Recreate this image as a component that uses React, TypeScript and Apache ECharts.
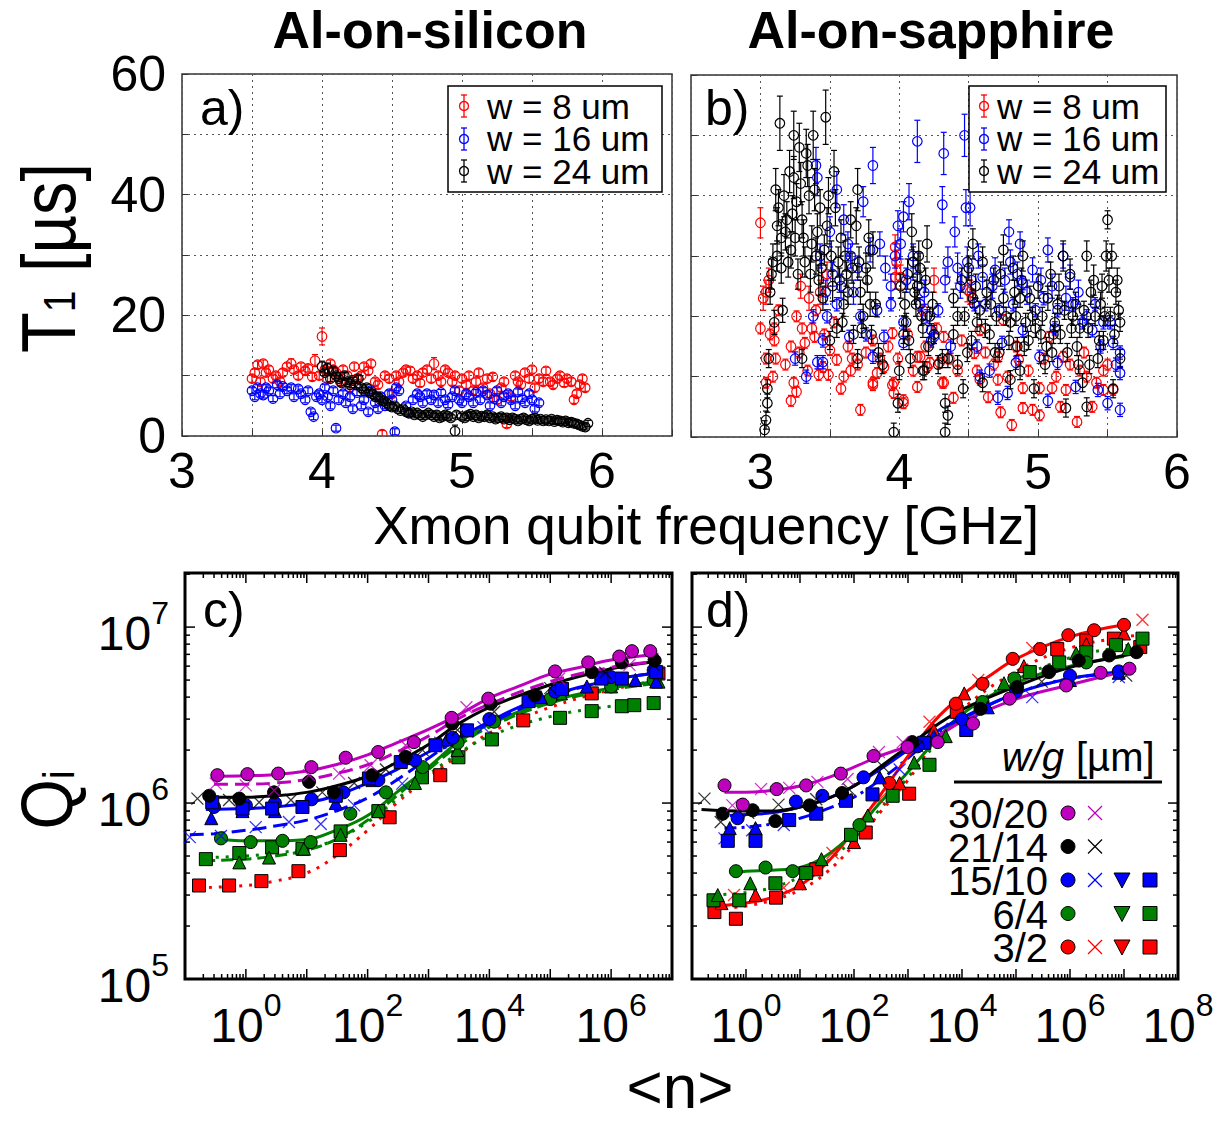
import React, { useEffect, useRef } from 'react';
import * as echarts from 'echarts';

const FONT = "'Liberation Sans', Arial, Helvetica, sans-serif";
const RED = '#ff0000';
const BLUE = '#0000ff';
const BLACK = '#000000';
const MAG = '#bf00bf';
const GRN = '#008000';

// ---------- text ----------
const panelTitles = ['Al-on-silicon', 'Al-on-sapphire'];
const panelTags = ['a)', 'b)', 'c)', 'd)'];
const t1LegendLabels = ['w = 8 um', 'w = 16 um', 'w = 24 um'];
const wgRowLabels = ['30/20', '21/14', '15/10', '6/4', '3/2'];

// ---------- panel a (Al-on-silicon): [GHz, T1 us, err] ----------
const aRed = [[3.50,9.5],[3.52,10.5],[3.54,11.8],[3.56,9],[3.58,12],[3.60,10.5],[3.62,11],[3.65,9.5],[3.67,10],[3.70,9],[3.72,10.5],[3.75,11.5],[3.78,12,0.8],[3.80,11],[3.83,10],[3.85,11.5],[3.88,10.8],[3.90,11.2],[3.93,9.8],[3.95,12.5,1.0],[3.98,10],[4.00,16.5,1.4],[4.02,11],[4.04,9.5],[4.06,12],[4.08,11],[4.10,10.5],[4.13,9],[4.15,11],[4.18,10],[4.20,8],[4.23,11.5],[4.25,9.5],[4.28,10],[4.30,11.5],[4.33,10.8],[4.35,12],[4.38,9],[4.40,8.5],[4.43,0.3],[4.45,10],[4.48,9.5],[4.50,7],[4.53,10],[4.55,9],[4.58,10.5],[4.60,11],[4.63,10.8],[4.65,9.5],[4.68,10],[4.70,8.8],[4.72,10.5],[4.75,11],[4.78,9.5],[4.80,12,1.0],[4.83,10],[4.85,9],[4.88,11],[4.90,10.5],[4.93,9],[4.95,10],[4.98,7.5],[5.00,9.5],[5.03,8.5],[5.05,10],[5.08,7.5],[5.10,9],[5.12,10.5],[5.15,8],[5.18,9.5],[5.20,7],[5.22,9.8],[5.25,6],[5.28,8],[5.30,9],[5.32,2],[5.35,6.5],[5.38,10],[5.40,9],[5.42,8.5],[5.45,10.5],[5.48,9.5],[5.50,11],[5.52,8],[5.55,9.5],[5.58,9],[5.60,10.8],[5.63,9],[5.65,8.5],[5.68,9.5],[5.70,10],[5.73,8.8],[5.75,9.5],[5.78,9],[5.80,6],[5.82,7],[5.84,8.5],[5.86,9.5],[5.88,8]];
const aBlue = [[3.50,7.5],[3.52,6.5],[3.54,8],[3.56,7],[3.58,6.8],[3.60,8],[3.62,7.5],[3.65,6.2],[3.68,8.5],[3.70,7],[3.72,8.2],[3.75,7.5],[3.78,8],[3.80,6.5],[3.83,7.8],[3.85,7],[3.88,6],[3.90,7.5],[3.92,4],[3.94,3.2],[3.96,6.5],[3.98,7],[4.00,6],[4.02,8],[4.04,6.5],[4.06,5],[4.08,7.5],[4.10,1.3],[4.12,6],[4.15,7],[4.17,5.5],[4.20,6.5],[4.22,4.5],[4.25,7.2],[4.28,5],[4.30,6],[4.33,4],[4.35,7.5],[4.38,5.5],[4.40,4.5],[4.42,6.5],[4.45,5],[4.48,7],[4.50,6],[4.52,0.7],[4.53,8],[4.55,7.5],[4.60,5],[4.62,3.8],[4.65,6],[4.68,7],[4.70,6.5],[4.72,5.5],[4.75,7],[4.78,6],[4.80,6.8],[4.83,5.5],[4.85,7.2],[4.88,6],[4.90,5.2],[4.93,6.5],[4.95,7.5],[4.98,6],[5.00,5.5],[5.03,7],[5.05,6.5],[5.08,5.5],[5.10,7.2],[5.13,6],[5.15,7.5],[5.18,6.8],[5.20,5],[5.23,6.2],[5.25,7.5],[5.28,5.5],[5.30,6.5],[5.33,7],[5.35,6],[5.38,5],[5.40,7.3],[5.43,6.2],[5.45,5.5],[5.48,7],[5.50,6],[5.52,4.5],[5.55,5.5]];
const aBlack = [[4.00,11.5,0.9],[4.02,10.5],[4.04,11.2,0.9],[4.06,9.5],[4.08,10.8],[4.10,10],[4.12,9.5],[4.14,8.8],[4.16,10],[4.18,9],[4.20,8.5],[4.22,9.2],[4.24,8.5],[4.26,9.5],[4.28,8],[4.30,7.5],[4.32,8],[4.34,7.2],[4.36,7],[4.38,6.5],[4.40,6.5],[4.42,6],[4.44,5.8],[4.46,5.5],[4.48,5],[4.50,4.8],[4.52,5],[4.54,4.5],[4.56,4.2],[4.58,4.5],[4.60,4],[4.62,3.8],[4.64,4],[4.66,3.5],[4.68,3.8],[4.70,3.5],[4.72,3.2],[4.74,3.5],[4.76,3.8],[4.78,3.5],[4.80,3.2],[4.82,3.5],[4.84,3],[4.86,3.2],[4.88,3.5],[4.90,3.3],[4.92,3],[4.95,0.8,1],[4.96,3.5],[5.00,3.2],[5.02,3],[5.04,3.4],[5.06,3.6],[5.08,3.2],[5.10,3.5],[5.12,3],[5.14,3.3],[5.16,3.2],[5.18,3.5],[5.20,3],[5.22,3.2],[5.24,2.8],[5.26,3],[5.28,3.2],[5.30,2.8],[5.32,3],[5.34,2.7],[5.36,3],[5.38,2.8],[5.40,2.5],[5.42,2.8],[5.44,3],[5.46,2.7],[5.48,2.5],[5.50,2.8],[5.52,3],[5.54,2.6],[5.56,2.8],[5.58,2.5],[5.60,2.7],[5.62,2.5],[5.64,2.8],[5.66,2.4],[5.68,2.6],[5.70,2.5],[5.72,2.3],[5.74,2.5],[5.76,2.2],[5.78,2.3],[5.80,2.1],[5.82,2],[5.84,1.8],[5.86,1.6],[5.88,1.5],[5.90,2.1]];

// ---------- panel b (Al-on-sapphire) ----------
const bRed = [[3.00,35.5,2.5],[3.00,18],[3.02,23,2],[3.04,24,2],[3.06,26,2],[3.04,13],[3.04,9],[3.07,17],[3.09,10],[3.10,18],[3.10,16],[3.11,13],[3.13,21],[3.18,12],[3.22,6],[3.22,15],[3.24,9],[3.26,7.5],[3.26,20],[3.28,14],[3.29,25,2],[3.30,18],[3.32,15.6],[3.34,11],[3.35,23,2],[3.37,18],[3.39,16.6],[3.40,21],[3.42,10.3],[3.43,24,2],[3.45,11.6],[3.46,17],[3.48,27,2],[3.49,10.3],[3.50,14.4],[3.53,19],[3.55,12.8],[3.58,8],[3.60,10],[3.63,15],[3.65,11],[3.66,13],[3.70,12],[3.72,4.5],[3.76,14],[3.81,9],[3.81,16],[3.81,8.6],[3.84,10.6],[3.86,13],[3.89,11.6],[3.92,15],[3.95,17.2],[3.95,8.6],[3.96,9],[3.96,7.3],[3.97,26.5,2],[3.97,31.5,2],[3.98,29,2],[3.99,13],[4.01,26.5,2],[4.03,6.1],[4.03,5.6],[4.06,17],[4.10,11],[4.13,13.3],[4.13,8.3],[4.15,13.3],[4.17,21],[4.19,15],[4.20,11.6],[4.22,12.3],[4.25,26,2],[4.27,18],[4.29,12.3],[4.31,9],[4.32,16.6],[4.32,9],[4.36,13],[4.39,6.5],[4.42,11],[4.45,16],[4.49,24.4,2],[4.51,24,2],[4.54,13.9],[4.56,11],[4.58,9.5],[4.58,17.7],[4.62,14],[4.64,6.6],[4.68,12],[4.71,9.5],[4.71,13.3],[4.73,4.1],[4.75,19.4],[4.78,10],[4.81,2],[4.84,15],[4.86,12.8],[4.89,4.8],[4.89,8.1],[4.93,11],[4.96,4.5],[5.01,3.6],[5.01,8.1],[5.04,13],[5.08,16.6],[5.10,8.1],[5.13,10],[5.16,5],[5.18,13.3],[5.20,7.8],[5.23,12],[5.28,2.5],[5.30,11],[5.33,14],[5.35,10],[5.39,5],[5.42,9],[5.47,7.8],[5.47,11],[5.50,12],[5.54,7.8]];
const bBlue = [[3.25,13],[3.33,10],[3.38,20],[3.40,45,3],[3.41,43,3],[3.41,12.4],[3.43,30,2],[3.45,16],[3.45,12.4],[3.47,24,2],[3.48,20],[3.50,34,2.5],[3.52,27,2],[3.55,22],[3.55,41,3],[3.58,25,2],[3.60,36,2.5],[3.63,32,2],[3.64,16.6],[3.65,30,2],[3.67,24,2],[3.70,28,2],[3.72,20],[3.74,39,2.5],[3.76,17],[3.79,31,2],[3.81,45,3],[3.81,13.3],[3.84,21],[3.86,32,2],[3.89,16.6],[3.90,28,2],[3.94,25,2],[3.94,22],[3.97,30,2],[3.99,35,2.5],[4.01,32,2.5],[4.03,36.5,2.5],[4.03,19],[4.03,15.6],[4.05,26,2],[4.07,39,3],[4.10,30,2],[4.13,49,3.5],[4.13,26.5,2],[4.15,22],[4.18,24,2],[4.20,20],[4.23,16],[4.23,17.7],[4.25,16.6],[4.28,21],[4.31,38.5,3],[4.32,47,3.5],[4.33,26,2],[4.35,29,2.5],[4.37,15],[4.40,34,2.5],[4.42,28,2.5],[4.44,25,2],[4.47,50,3.5],[4.48,38,3],[4.49,29,2.5],[4.51,38,3],[4.52,26,2],[4.54,22],[4.56,15],[4.57,30,2],[4.58,10],[4.60,26.5,2],[4.62,22],[4.65,11],[4.67,25,2],[4.69,27.7,2],[4.71,6.5],[4.72,21],[4.74,15.6],[4.76,26,2],[4.78,7.3],[4.79,34,2],[4.80,29,2],[4.82,22],[4.84,12.3],[4.85,27,2],[4.87,32,2],[4.89,25.5],[4.89,17.7],[4.92,24,2],[4.96,27.7,2],[4.98,21],[5.01,13.3],[5.02,26,2],[5.04,23],[5.07,31,2],[5.07,6],[5.10,25,2],[5.12,18],[5.14,21],[5.14,12.3],[5.18,30,2],[5.20,23,2],[5.23,26.5,2],[5.25,22],[5.27,8.3],[5.29,24,2],[5.32,19],[5.35,20],[5.39,17.7],[5.41,22],[5.43,7.8],[5.45,15],[5.47,19],[5.50,5.6],[5.52,19],[5.54,15.6],[5.56,12],[5.59,14],[5.59,10.6],[5.59,4.5]];
const bBlack = [[3.03,1.2],[3.04,2.8],[3.05,5.6],[3.05,8],[3.06,13],[3.07,24,2],[3.08,27,2.5],[3.09,29,3],[3.10,19,2],[3.11,41,3.5],[3.12,30,2.5],[3.12,35,3],[3.13,38,3],[3.14,52,4.5],[3.15,28,2.5],[3.15,33,3],[3.16,21,2],[3.17,40,3.5],[3.18,34,3],[3.19,36,3],[3.20,29,2.5],[3.21,44,3.5],[3.22,31,3],[3.23,37,3],[3.24,50,4],[3.24,43,3.5],[3.25,33,3],[3.26,39,3],[3.27,27,2.5],[3.28,48,4],[3.29,42,3.5],[3.30,13],[3.30,36,3],[3.31,33,3],[3.32,29,2.5],[3.33,47,4],[3.34,45,3.5],[3.35,40,3],[3.36,27,3],[3.37,32,3],[3.38,50,4],[3.39,41,3.5],[3.40,30,3],[3.41,34,3],[3.42,26,2.5],[3.43,38,3],[3.44,28,2.5],[3.45,23,2],[3.46,31,2.5],[3.47,53,4.5],[3.48,35,3],[3.49,40,3],[3.50,16],[3.51,30,2.5],[3.52,25,2.5],[3.53,44,3.5],[3.54,38,3],[3.55,18],[3.56,29,2.5],[3.57,26,2],[3.58,33,3],[3.59,19],[3.60,22,2],[3.61,30,2.5],[3.62,27,2],[3.63,24,2],[3.65,36,3],[3.66,28,2.5],[3.67,17],[3.69,35,3],[3.70,41,3.5],[3.70,13],[3.71,29,2.5],[3.72,24,2],[3.73,18],[3.74,20,2],[3.76,28,2.5],[3.77,26,2],[3.78,33,3],[3.79,22,2],[3.80,17],[3.81,31,3],[3.83,22,2],[3.85,14],[3.88,12],[3.96,0.8],[3.99,5.6],[4.00,11],[4.01,25,2],[4.03,17],[4.04,22,2],[4.05,19],[4.06,27,2.5],[4.07,16],[4.08,13],[4.09,34,3],[4.10,29,2.5],[4.11,24,2],[4.12,22,2],[4.13,25,2],[4.14,30,2.5],[4.15,28,2.5],[4.16,20],[4.17,11],[4.17,18],[4.18,11],[4.19,26,2],[4.20,32,3],[4.21,15],[4.22,20],[4.24,22,2],[4.25,17],[4.28,12],[4.31,13],[4.33,0.8],[4.33,5.6],[4.35,3.6],[4.35,13],[4.39,17],[4.39,23],[4.42,20],[4.42,12],[4.45,26,2],[4.46,8],[4.47,20],[4.49,14],[4.50,28,2],[4.52,16],[4.53,32,2.5],[4.53,23],[4.55,25,2],[4.56,19],[4.58,21],[4.60,29,2.5],[4.60,9],[4.62,18],[4.63,24,2],[4.65,17],[4.66,22,2],[4.68,26,2],[4.69,14],[4.70,20],[4.72,14],[4.73,27,2],[4.75,31,2.5],[4.75,23],[4.77,20],[4.79,16],[4.80,19],[4.80,9.5],[4.82,28,2],[4.83,24,2],[4.84,20],[4.85,15],[4.87,23],[4.87,11],[4.88,26,2],[4.89,30,2.5],[4.90,15],[4.91,19],[4.93,16],[4.94,23,2],[4.96,20],[4.97,8],[4.98,18],[5.00,25,2],[5.02,17],[5.03,20],[5.05,12],[5.06,15],[5.07,23,2],[5.09,27,2],[5.10,14],[5.11,17],[5.12,19],[5.14,22],[5.15,25,2],[5.16,17],[5.18,30,2.5],[5.19,21],[5.20,4.8],[5.21,14],[5.23,27,2.5],[5.24,18],[5.25,20],[5.27,22,2],[5.28,15],[5.29,12],[5.30,18],[5.32,9],[5.33,21],[5.35,30,2.5],[5.35,5],[5.36,18],[5.37,12],[5.38,24,2],[5.40,26,2.5],[5.41,20],[5.43,13],[5.44,16],[5.45,22,2],[5.46,25,2],[5.47,16],[5.48,20],[5.49,30,2.5],[5.50,36,1.5],[5.51,26,2],[5.52,20],[5.53,30,2],[5.54,8],[5.55,17],[5.56,24,2],[5.57,26,2],[5.58,21],[5.59,19],[5.59,13]];

// ---------- panel c (Al-on-silicon resonators): [<n>, Qi] ----------
const cMagCirc = [[0.34,1.44e6],[1.06,1.46e6],[3.4,1.47e6],[11.9,1.6e6],[43.6,1.81e6],[149,1.95e6],[575,2.22e6],[2400,3.05e6],[9600,3.92e6],[1.2e5,5.6e6],[4.2e5,6.3e6],[1.36e6,6.8e6],[2.2e6,7.3e6],[4.4e6,7.3e6]];
const cMagX = [[0.32,1.29e6],[1,1.26e6],[2.9,1.18e6],[10.9,1.44e6],[34,1.47e6],[112,1.64e6],[420,2.13e6],[4200,3.5e6],[1.4e5,5.1e6],[2e6,6.1e6]];
const cBlkCirc = [[0.25,1.1e6],[0.78,1.06e6],[2.9,1.15e6],[10.9,1.32e6],[28,1.15e6],[119,1.44e6],[420,1.83e6],[2450,2.83e6],[1.05e4,3.67e6],[5.6e4,4.1e6],[4.8e5,5.55e6],[1.5e6,6.3e6],[5.2e6,6.45e6]];
const cBlkX = [[0.16,1.06e6],[0.53,1.04e6],[1.65,1.01e6],[5.5,1.04e6],[18,1.15e6],[60,1.3e6],[200,1.55e6],[800,2e6],[3000,2.6e6],[1.2e4,3.3e6],[1e5,4.5e6],[8e5,5.5e6],[5e6,6.1e6]];
const cBluCirc = [[0.3,0.95e6],[1,0.97e6],[3,1e6],[12,1.05e6],[40,1.15e6],[150,1.35e6],[600,1.75e6],[2500,2.35e6],[1e4,3e6],[1.2e5,4.3e6],[1e6,5.2e6],[5e6,5.7e6]];
const cBluX = [[0.12,0.64e6],[0.39,0.65e6],[1.45,0.73e6],[5.1,0.78e6],[17,0.76e6],[60,0.97e6],[370,1.29e6],[1560,2.2e6],[8000,2.7e6],[6e6,5.45e6]];
const cBluTri = [[0.27,0.82e6],[0.88,0.9e6],[3,0.9e6],[30,1e6],[120,1.35e6],[500,1.8e6],[2000,2.3e6],[7e4,4e6],[4e5,4.6e6],[2.5e6,5e6],[5.5e6,4.9e6]];
const cBluSq = [[0.28,1.01e6],[0.88,0.93e6],[2.7,0.93e6],[8.5,0.95e6],[30,1.1e6],[105,1.38e6],[350,1.71e6],[1300,2.13e6],[4300,2.59e6],[4.4e4,3.8e6],[1.56e5,4.45e6],[6.9e5,5.1e6],[1.5e6,5.1e6],[5.5e6,5.55e6]];
const cGrnCirc = [[0.39,0.63e6],[1.2,0.6e6],[4,0.61e6],[11.6,0.6e6],[52,0.87e6],[200,1.15e6],[800,1.6e6],[3000,2.2e6],[1.2e4,2.9e6],[1e5,3.9e6],[1e6,4.6e6],[5e6,5e6]];
const cGrnTri = [[0.78,0.46e6],[2.4,0.49e6],[9,0.55e6],[36,0.66e6],[150,0.9e6],[600,1.3e6],[3000,2e6],[1.5e5,4.2e6],[1e6,4.6e6],[6e6,4.9e6]];
const cGrnSq = [[0.22,0.48e6],[0.78,0.52e6],[2.7,0.56e6],[8.5,0.55e6],[36,0.69e6],[150,0.9e6],[780,1.4e6],[3100,1.82e6],[1.1e4,2.3e6],[1.45e5,3.05e6],[4.8e5,3.33e6],[1.5e6,3.55e6],[2.4e6,3.6e6],[5e6,3.7e6]];
const cRedSq = [[0.17,0.34e6],[0.53,0.34e6],[1.8,0.36e6],[7.3,0.41e6],[35,0.54e6],[230,0.83e6],[1560,1.44e6],[3.6e4,2.95e6],[4.8e5,4.2e6],[6e6,5.45e6]];
// fitted curves, panel c
const cMagFit = [[0.28,1.42e6],[1,1.43e6],[3,1.45e6],[10,1.52e6],[30,1.65e6],[100,1.88e6],[300,2.2e6],[1000,2.62e6],[3000,3.15e6],[1e4,3.95e6],[3e4,4.6e6],[1e5,5.4e6],[3e5,5.9e6],[1e6,6.5e6],[6e6,7e6]];
const cMagXFit = [[0.3,1.28e6],[1,1.28e6],[3,1.3e6],[10,1.36e6],[30,1.47e6],[100,1.65e6],[300,1.95e6],[1000,2.4e6],[3000,3e6],[1e4,3.65e6],[1e5,4.9e6],[1e6,5.9e6],[6e6,6.4e6]];
const cBlkFit = [[0.2,1.08e6],[1,1.08e6],[3,1.1e6],[10,1.15e6],[30,1.25e6],[100,1.42e6],[300,1.7e6],[1000,2.15e6],[3000,2.8e6],[1e4,3.5e6],[1e5,4.7e6],[1e6,5.8e6],[6e6,6.4e6]];
const cBluFit = [[0.22,0.92e6],[1,0.93e6],[3,0.95e6],[10,1e6],[30,1.1e6],[100,1.3e6],[300,1.55e6],[1000,1.95e6],[3000,2.35e6],[1e4,2.9e6],[3e4,3.5e6],[1e5,4.1e6],[1e6,5e6],[6e6,5.5e6]];
const cBluXFit = [[0.12,0.66e6],[0.3,0.67e6],[1,0.7e6],[3,0.74e6],[10,0.8e6],[30,0.9e6],[100,1.07e6],[300,1.35e6],[1000,1.8e6],[3000,2.3e6],[1e4,2.85e6],[1e5,4e6],[1e6,5e6],[6e6,5.5e6]];
const cGrnFit = [[0.39,0.62e6],[1,0.61e6],[3,0.61e6],[10,0.62e6],[30,0.7e6],[100,0.85e6],[300,1.15e6],[1000,1.6e6],[3000,2.2e6],[1e4,2.8e6],[1e5,3.8e6],[1e6,4.5e6],[6e6,4.9e6]];
const cGrnTriFit = [[0.2,0.47e6],[1,0.48e6],[3,0.5e6],[10,0.54e6],[30,0.62e6],[100,0.8e6],[300,1.1e6],[1000,1.55e6],[3000,2.1e6],[1e4,2.7e6],[1e5,3.7e6],[1e6,4.4e6],[6e6,4.8e6]];
const cGrnSqFit = [[0.22,0.49e6],[1,0.5e6],[3,0.52e6],[10,0.55e6],[30,0.62e6],[100,0.78e6],[300,1.05e6],[1000,1.45e6],[3000,1.9e6],[1e4,2.4e6],[1e5,3.1e6],[1e6,3.55e6],[5e6,3.75e6]];
const cRedSqFit = [[0.17,0.33e6],[1,0.34e6],[3,0.36e6],[10,0.4e6],[30,0.5e6],[100,0.7e6],[300,1e6],[1000,1.4e6],[3000,1.85e6],[1e4,2.5e6],[1e5,3.5e6],[1e6,4.4e6],[6e6,5e6]];

// ---------- panel d (Al-on-sapphire resonators) ----------
const dMagCirc = [[0.4,1.26e6],[0.87,0.98e6],[3.7,1.2e6],[13,1.26e6],[57,1.47e6],[230,1.85e6],[980,2.08e6],[3550,2.22e6],[1.6e4,2.83e6],[7.6e4,3.92e6],[8.5e5,4.66e6],[3.7e6,5.5e6],[1.26e7,5.8e6]];
const dMagX = [[0.56,0.97e6],[1.9,1.2e6],[6.3,1.22e6],[21,1.32e6],[76,1.37e6],[290,1.95e6],[800,2.22e6]];
const dBlkCirc = [[0.37,0.87e6],[1.33,0.91e6],[3.5,0.79e6],[15,0.97e6],[60,1.14e6],[1200,2.22e6],[2.2e4,3.43e6],[1.05e5,4.56e6],[4.1e5,5.55e6],[1.45e6,6.45e6],[5.3e6,6.9e6],[1.7e7,7.2e6]];
const dBlkX = [[0.17,1.06e6],[0.34,0.78e6],[1.1,0.88e6],[4,0.98e6],[20,1.05e6],[80,1.2e6],[350,1.6e6],[1500,2.1e6],[3e5,4.9e6],[1.1e7,5.3e6]];
const dBluCirc = [[0.7,0.82e6],[8.4,1.02e6],[26,1.1e6],[150,1.4e6],[1500,2.1e6],[1e4,3e6],[1e5,4.3e6],[1e6,5.3e6],[8e6,5.6e6]];
const dBluX = [[0.4,0.63e6],[1.3,0.7e6],[5,0.75e6],[70,1.05e6],[700,1.55e6],[3e3,2.3e6],[1.5e4,2.9e6],[2e5,4e6],[8e6,5.2e6]];
const dBluTri = [[0.5,0.72e6],[1.5,0.72e6],[20,0.9e6],[300,1.4e6],[3000,2.4e6],[3e4,3.5e6],[1e6,5e6],[8e6,5.5e6]];
const dBluSq = [[0.46,0.61e6],[1.5,0.61e6],[6.3,0.8e6],[20,0.87e6],[71,1.03e6],[220,1.12e6],[2000,2.2e6],[1.2e4,2.6e6]];
const dGrnCirc = [[0.65,0.41e6],[2.3,0.43e6],[7.3,0.41e6],[126,0.75e6],[2.4e4,3.75e6],[9.3e4,5.1e6],[4e5,5.6e6],[2e6,6.3e6]];
const dGrnTri = [[0.3,0.3e6],[1.2,0.35e6],[25,0.48e6],[180,0.85e6],[1300,1.7e6],[5e3,2.4e6],[6e4,4.8e6],[1.3e6,7.1e6],[1.2e7,7.5e6]];
const dGrnSq = [[0.25,0.28e6],[0.75,0.28e6],[3.5,0.35e6],[13,0.4e6],[88,0.66e6],[520,1.1e6],[2500,1.65e6],[1.8e5,5.55e6],[6.3e5,6.3e6],[2e6,7.2e6],[7.1e6,7.9e6],[2.2e7,8.6e6]];
const dRedCirc = [[450,1.3e6],[7.7e3,3.67e6],[2.4e4,4.76e6],[8.7e4,6.6e6],[2.8e5,7.5e6],[9.3e5,9e6],[2.8e6,9.6e6],[1e7,10.3e6]];
const dRedX = [[0.6,0.3e6],[5,0.33e6],[40,0.52e6],[300,1.05e6],[2.5e3,2.9e6],[2e4,5e6],[2e5,7.6e6],[2.2e7,11e6]];
const dRedTri = [[0.35,0.27e6],[1.5,0.3e6],[10,0.35e6],[100,0.6e6],[700,1.3e6],[3000,2.6e6],[1.1e4,4.2e6],[1.4e5,6e6],[2e6,8e6],[1e7,9.2e6]];
const dRedSq = [[0.26,0.24e6],[0.65,0.22e6],[3.6,0.29e6],[20,0.42e6],[165,0.68e6],[1050,1.13e6],[8000,3.3e6],[5.8e5,7.5e6],[2e6,8.4e6],[6.5e6,8.6e6],[2e7,7.7e6]];
// fitted curves, panel d
const dMagFit = [[0.4,1.15e6],[1,1.15e6],[3,1.18e6],[10,1.25e6],[30,1.38e6],[100,1.6e6],[300,1.85e6],[1000,2.1e6],[3000,2.35e6],[1e4,2.9e6],[1e5,3.9e6],[1e6,4.7e6],[1e7,5.6e6],[1.3e7,5.7e6]];
const dBlkFit = [[0.15,0.92e6],[1,0.9e6],[3,0.9e6],[10,0.95e6],[30,1.05e6],[100,1.25e6],[300,1.6e6],[1000,2.1e6],[3000,2.7e6],[1e4,3.4e6],[1e5,4.6e6],[1e6,5.9e6],[1e7,6.9e6],[2e7,7.2e6]];
const dBluFit = [[0.5,0.85e6],[1,0.86e6],[3,0.88e6],[10,0.95e6],[30,1.05e6],[100,1.25e6],[300,1.55e6],[1000,2e6],[3000,2.5e6],[1e4,3.05e6],[1e5,4.2e6],[1e6,5.1e6],[1e7,5.6e6]];
const dBluSqFit = [[0.4,0.72e6],[1,0.73e6],[3,0.76e6],[10,0.82e6],[30,0.92e6],[100,1.08e6],[300,1.35e6],[1000,1.8e6],[3000,2.4e6],[1e4,3e6],[1e5,4.2e6],[1e6,5.1e6],[1e7,5.5e6]];
const dGrnFit = [[0.6,0.4e6],[1,0.41e6],[3,0.415e6],[10,0.43e6],[30,0.5e6],[100,0.68e6],[300,1e6],[1000,1.5e6],[3000,2.2e6],[1e4,3.2e6],[1e5,4.8e6],[1e6,6e6],[1e7,6.8e6]];
const dGrnSqFit = [[0.25,0.3e6],[1,0.31e6],[3,0.33e6],[10,0.38e6],[30,0.46e6],[100,0.63e6],[300,0.92e6],[1000,1.4e6],[3000,2.1e6],[1e4,3.2e6],[1e5,5e6],[1e6,6.7e6],[1e7,7.8e6],[2e7,8.2e6]];
const dRedFit = [[0.3,0.26e6],[1,0.27e6],[3,0.29e6],[10,0.34e6],[30,0.45e6],[100,0.7e6],[300,1.1e6],[1000,1.85e6],[3000,2.9e6],[1e4,4.1e6],[3e4,5.2e6],[1e5,6.6e6],[1e6,8.8e6],[1e7,10.3e6]];
const dRedSqFit = [[0.26,0.25e6],[1,0.26e6],[3,0.28e6],[10,0.32e6],[30,0.4e6],[100,0.58e6],[300,0.88e6],[1000,1.35e6],[3000,2.2e6],[1e4,3.4e6],[1e5,5.6e6],[1e6,7.6e6],[1e7,8.8e6],[2e7,9e6]];

const X_SYMBOL = 'path://M0,0L10,10M10,0L0,10';

function errSeries(data: number[][], color: string, defErr: number, grid: number) {
  return {
    type: 'custom', xAxisIndex: grid, yAxisIndex: grid, clip: true, silent: true, z: 3,
    data: data.map((d) => [d[0], d[1], d[2] !== undefined ? d[2] : defErr]),
    renderItem: (params: any, api: any) => {
      const x = api.value(0), y = api.value(1), e = api.value(2);
      const p = api.coord([x, y]);
      const yt = api.coord([x, y + e])[1];
      const yb = api.coord([x, y - e])[1];
      const st = { stroke: color, lineWidth: 1.2, fill: 'none' };
      return {
        type: 'group',
        children: [
          { type: 'line', shape: { x1: p[0], y1: yt, x2: p[0], y2: yb }, style: st },
          { type: 'line', shape: { x1: p[0] - 3, y1: yt, x2: p[0] + 3, y2: yt }, style: st },
          { type: 'line', shape: { x1: p[0] - 3, y1: yb, x2: p[0] + 3, y2: yb }, style: st },
          { type: 'circle', shape: { cx: p[0], cy: p[1], r: 4.8 }, style: st },
        ],
      };
    },
  };
}

function pts(data: number[][], symbol: string, color: string, grid: number, size = 13) {
  const isX = symbol === 'x';
  return {
    type: 'scatter', xAxisIndex: grid, yAxisIndex: grid, data, z: 4, silent: true,
    symbol: isX ? X_SYMBOL : symbol,
    symbolSize: isX ? 12 : size,
    itemStyle: isX
      ? { color: 'rgba(0,0,0,0)', borderColor: color, borderWidth: 1.3 }
      : { color, borderColor: '#000', borderWidth: 1, opacity: 1 },
  };
}

function fit(data: number[][], color: string, dash: any, grid: number) {
  return {
    type: 'line', xAxisIndex: grid, yAxisIndex: grid, data, smooth: 0.4, symbol: 'none', showSymbol: false,
    silent: true, z: 3, lineStyle: { color, width: 3, type: dash, cap: 'butt' },
  };
}

// log-axis decorations (ticks on all four sides + 10^n labels)
function logDecor(grid: number, xMin: number, xMax: number, yMin: number, yMax: number, yLabels: boolean) {
  const items: number[][] = [];
  for (let e = Math.floor(Math.log10(xMin)); e <= Math.ceil(Math.log10(xMax)); e++) {
    for (let m = 1; m <= 9; m++) {
      const v = m * Math.pow(10, e);
      if (v >= xMin * 0.999 && v <= xMax * 1.001) items.push([v, 1e6, m === 1 ? 0 : 1, m === 1 && e % 2 === 0 ? e : 99]);
    }
  }
  for (let e = Math.floor(Math.log10(yMin)); e <= Math.ceil(Math.log10(yMax)); e++) {
    for (let m = 1; m <= 9; m++) {
      const v = m * Math.pow(10, e);
      if (v >= yMin * 0.999 && v <= yMax * 1.001) items.push([1, v, m === 1 ? 2 : 3, m === 1 && yLabels ? e : 99]);
    }
  }
  const rich = {
    b: { fontSize: 48, fontFamily: FONT, fill: '#000', lineHeight: 60, verticalAlign: 'bottom' },
    s: { fontSize: 32, fontFamily: FONT, fill: '#000', lineHeight: 32, verticalAlign: 'top' },
  };
  return {
    type: 'custom', xAxisIndex: grid, yAxisIndex: grid, clip: false, silent: true, z: 10, data: items,
    renderItem: (params: any, api: any) => {
      const cs = params.coordSys;
      const kind = api.value(2), lab = api.value(3);
      const p = api.coord([api.value(0), api.value(1)]);
      const st = { stroke: '#000', lineWidth: 1.5 };
      const ch: any[] = [];
      const bot = cs.y + cs.height, top = cs.y, left = cs.x, right = cs.x + cs.width;
      if (kind <= 1) {
        const L = kind === 0 ? 10 : 5;
        ch.push({ type: 'line', shape: { x1: p[0], y1: bot, x2: p[0], y2: bot - L }, style: st });
        ch.push({ type: 'line', shape: { x1: p[0], y1: top, x2: p[0], y2: top + L }, style: st });
        if (lab !== 99) {
          ch.push({ type: 'text', x: p[0], y: bot + 10, style: { text: '{b|10}{s|' + lab + '}', rich, align: 'center', verticalAlign: 'top' } });
        }
      } else {
        const L = kind === 2 ? 10 : 5;
        ch.push({ type: 'line', shape: { x1: left, y1: p[1], x2: left + L, y2: p[1] }, style: st });
        ch.push({ type: 'line', shape: { x1: right, y1: p[1], x2: right - L, y2: p[1] }, style: st });
        if (lab !== 99) {
          ch.push({ type: 'text', x: left - 16, y: p[1], style: { text: '{b|10}{s|' + lab + '}', rich, align: 'right', verticalAlign: 'middle' } });
        }
      }
      return { type: 'group', children: ch };
    },
  };
}

function linAxisX(grid: number, min: number, max: number) {
  return {
    type: 'value', gridIndex: grid, min, max, interval: 0.5,
    axisLine: { show: false },
    axisTick: { show: true, inside: true, length: 6, lineStyle: { color: '#333', width: 1 } },
    axisLabel: { fontSize: 50, fontFamily: FONT, color: '#000', margin: 10, formatter: (v: number) => (Number.isInteger(v) ? String(v) : '') },
    splitLine: { show: true, lineStyle: { color: '#555', width: 1, type: [2, 4] } },
  };
}
function linAxisY(grid: number, showLabels: boolean) {
  return {
    type: 'value', gridIndex: grid, min: 0, max: 60, interval: 10,
    axisLine: { show: false },
    axisTick: { show: true, inside: true, length: 6, lineStyle: { color: '#333', width: 1 } },
    axisLabel: { show: showLabels, fontSize: 50, fontFamily: FONT, color: '#000', margin: 16, formatter: (v: number) => (v % 20 === 0 ? String(v) : '') },
    splitLine: { show: true, lineStyle: { color: '#555', width: 1, type: [2, 4] } },
  };
}
function logAxis(grid: number, min: number, max: number) {
  return {
    type: 'log', logBase: 10, gridIndex: grid, min, max,
    axisLine: { show: false }, axisTick: { show: false }, axisLabel: { show: false }, splitLine: { show: false },
  };
}

function errLegend(x0: number, y0: number, w: number, markerX: number, textX: number) {
  const colors = [RED, BLUE, BLACK];
  const rows = [y0 + 20, y0 + 53, y0 + 85];
  const els: any[] = [
    { type: 'rect', shape: { x: x0, y: y0, width: w, height: 106 }, style: { fill: '#fff', stroke: '#000', lineWidth: 1.5 }, z: 100 },
  ];
  t1LegendLabels.forEach((t, i) => {
    const c = colors[i], y = rows[i];
    const st = { stroke: c, lineWidth: 1.3, fill: 'none' };
    els.push({ type: 'line', shape: { x1: markerX, y1: y - 11, x2: markerX, y2: y + 11 }, style: st, z: 101 });
    els.push({ type: 'line', shape: { x1: markerX - 3, y1: y - 11, x2: markerX + 3, y2: y - 11 }, style: st, z: 101 });
    els.push({ type: 'line', shape: { x1: markerX - 3, y1: y + 11, x2: markerX + 3, y2: y + 11 }, style: st, z: 101 });
    els.push({ type: 'circle', shape: { cx: markerX, cy: y, r: 4.5 }, style: st, z: 101 });
  });
  // the three labels as one multi-line text
  els.push({ type: 'text', x: textX, y: y0 + 52.5, z: 101, style: { text: t1LegendLabels.join('\n'), fontSize: 35, lineHeight: 32.5, fontFamily: FONT, fill: '#000', align: 'left', verticalAlign: 'middle' } });
  return els;
}

function wgLegend() {
  const els: any[] = [];
  els.push({ type: 'text', x: 1064, y: 757, z: 100, style: { text: 'w/g', fontSize: 40, fontStyle: 'italic', fontFamily: FONT, fill: '#000', align: 'right', verticalAlign: 'middle' } });
  els.push({ type: 'text', x: 1076, y: 757, z: 100, style: { text: '[µm]', fontSize: 40, fontFamily: FONT, fill: '#000', align: 'left', verticalAlign: 'middle' } });
  els.push({ type: 'line', shape: { x1: 954, y1: 782, x2: 1162, y2: 782 }, style: { stroke: '#000', lineWidth: 3 }, z: 100 });
  const rowY = [813, 846.5, 880, 913.5, 947];
  const rowColor = [MAG, BLACK, BLUE, GRN, RED];
  const rowMarks = [[1, 1, 0, 0], [1, 1, 0, 0], [1, 1, 1, 1], [1, 0, 1, 1], [1, 1, 1, 1]];
  const mx = [1068, 1095, 1122, 1150];
  // the five row labels as one right-aligned multi-line text
  els.push({ type: 'text', x: 1048, y: 881, z: 100, style: { text: wgRowLabels.join('\n'), fontSize: 40, lineHeight: 33.5, fontFamily: FONT, fill: '#000', align: 'right', verticalAlign: 'middle' } });
  wgRowLabels.forEach((_lab, i) => {
    const y = rowY[i], c = rowColor[i];
    const m = rowMarks[i];
    if (m[0]) els.push({ type: 'circle', shape: { cx: mx[0], cy: y, r: 7 }, style: { fill: c, stroke: '#000', lineWidth: 1 }, z: 100 });
    if (m[1]) {
      els.push({ type: 'line', shape: { x1: mx[1] - 7, y1: y - 7, x2: mx[1] + 7, y2: y + 7 }, style: { stroke: c, lineWidth: 1.3 }, z: 100 });
      els.push({ type: 'line', shape: { x1: mx[1] - 7, y1: y + 7, x2: mx[1] + 7, y2: y - 7 }, style: { stroke: c, lineWidth: 1.3 }, z: 100 });
    }
    if (m[2]) els.push({ type: 'polygon', shape: { points: [[mx[2] - 8, y - 7], [mx[2] + 8, y - 7], [mx[2], y + 8]] }, style: { fill: c, stroke: '#000', lineWidth: 1 }, z: 100 });
    if (m[3]) els.push({ type: 'rect', shape: { x: mx[3] - 7, y: y - 7, width: 14, height: 14 }, style: { fill: c, stroke: '#000', lineWidth: 1 }, z: 100 });
  });
  return els;
}

function txt(text: string, x: number, y: number, size: number, extra: any = {}, styleExtra: any = {}) {
  return { type: 'text', x, y, z: 100, ...extra, style: { text, fontSize: size, fontFamily: FONT, fill: '#000', align: 'center', verticalAlign: 'middle', ...styleExtra } };
}

export default function App() {
  const ref = useRef<HTMLDivElement>(null);
  useEffect(() => {
    if (!ref.current) return;
    const chart = echarts.init(ref.current, null, { renderer: 'svg' });
    const yMaxLog = 2.03e7;
    const option: any = {
      animation: false,
      backgroundColor: '#ffffff',
      textStyle: { fontFamily: FONT },
      grid: [
        { left: 182, top: 74, width: 490, height: 362, show: true, borderColor: '#333', borderWidth: 1.5 },
        { left: 691, top: 75, width: 486, height: 362, show: true, borderColor: '#333', borderWidth: 1.5 },
        { left: 185, top: 573, width: 487, height: 406, show: true, borderColor: '#000', borderWidth: 3 },
        { left: 692, top: 573, width: 486, height: 406, show: true, borderColor: '#000', borderWidth: 3 },
      ],
      xAxis: [linAxisX(0, 3, 6.5), linAxisX(1, 2.5, 6), logAxis(2, 0.1, 1e7), logAxis(3, 0.1, 1e8)],
      yAxis: [linAxisY(0, true), linAxisY(1, false), logAxis(2, 1e5, yMaxLog), logAxis(3, 1e5, yMaxLog)],
      series: [
        errSeries(aRed, RED, 0.6, 0),
        errSeries(aBlue, BLUE, 0.5, 0),
        errSeries(aBlack, BLACK, 0.5, 0),
        errSeries(bRed, RED, 0.9, 1),
        errSeries(bBlue, BLUE, 1.1, 1),
        errSeries(bBlack, BLACK, 1.5, 1),
        // panel c fits
        fit(cRedSqFit, RED, [3, 7], 2),
        fit(cGrnSqFit, GRN, [3, 7], 2),
        fit(cGrnTriFit, GRN, [12, 6], 2),
        fit(cGrnFit, GRN, 'solid', 2),
        fit(cBluXFit, BLUE, [14, 7], 2),
        fit(cBluFit, BLUE, 'solid', 2),
        fit(cBlkFit, BLACK, 'solid', 2),
        fit(cMagXFit, MAG, [14, 7], 2),
        fit(cMagFit, MAG, 'solid', 2),
        // panel c markers
        pts(cRedSq, 'rect', RED, 2),
        pts(cGrnSq, 'rect', GRN, 2),
        pts(cGrnTri, 'triangle', GRN, 2),
        pts(cGrnCirc, 'circle', GRN, 2),
        pts(cBluX, 'x', BLUE, 2),
        pts(cBluTri, 'triangle', BLUE, 2),
        pts(cBluCirc, 'circle', BLUE, 2),
        pts(cBluSq, 'rect', BLUE, 2),
        pts(cBlkX, 'x', BLACK, 2),
        pts(cBlkCirc, 'circle', BLACK, 2),
        pts(cMagX, 'x', MAG, 2),
        pts(cMagCirc, 'circle', MAG, 2),
        // panel d fits
        fit(dRedSqFit, RED, [3, 7], 3),
        fit(dGrnSqFit, GRN, [3, 7], 3),
        fit(dBluSqFit, BLUE, [12, 5, 3, 5], 3),
        fit(dRedFit, RED, 'solid', 3),
        fit(dGrnFit, GRN, 'solid', 3),
        fit(dBluFit, BLUE, 'solid', 3),
        fit(dBlkFit, BLACK, 'solid', 3),
        fit(dMagFit, MAG, 'solid', 3),
        // panel d markers
        pts(dRedSq, 'rect', RED, 3),
        pts(dRedTri, 'triangle', RED, 3),
        pts(dRedX, 'x', RED, 3),
        pts(dGrnSq, 'rect', GRN, 3),
        pts(dGrnTri, 'triangle', GRN, 3),
        pts(dGrnCirc, 'circle', GRN, 3),
        pts(dRedCirc, 'circle', RED, 3),
        pts(dBluX, 'x', BLUE, 3),
        pts(dBluTri, 'triangle', BLUE, 3),
        pts(dBluSq, 'rect', BLUE, 3),
        pts(dBluCirc, 'circle', BLUE, 3),
        pts(dBlkX, 'x', BLACK, 3),
        pts(dBlkCirc, 'circle', BLACK, 3),
        pts(dMagX, 'x', MAG, 3),
        pts(dMagCirc, 'circle', MAG, 3),
        // log axes decorations
        logDecor(2, 0.1, 1e7, 1e5, yMaxLog, true),
        logDecor(3, 0.1, 1e8, 1e5, yMaxLog, false),
      ],
      graphic: {
        elements: [
          txt(panelTitles[0], 430, 30, 52, {}, { fontWeight: 'bold' }),
          txt(panelTitles[1], 931, 30, 52, {}, { fontWeight: 'bold' }),
          txt(panelTags[0], 200, 108, 50, {}, { align: 'left' }),
          txt(panelTags[1], 705, 108, 50, {}, { align: 'left' }),
          txt(panelTags[2], 203, 610, 50, {}, { align: 'left' }),
          txt(panelTags[3], 706, 610, 50, {}, { align: 'left' }),
          ...errLegend(448, 86, 214, 464, 487),
          ...errLegend(969, 86, 197, 984, 997),
          ...wgLegend(),
          // axis titles
          {
            type: 'text', x: 46, y: 258, rotation: Math.PI / 2, scaleX: 0.88, z: 100,
            style: {
              text: '{a|T}{s|1}{a| [µs]}', align: 'center', verticalAlign: 'middle',
              rich: {
                a: { fontSize: 76, fontFamily: FONT, fill: '#000', lineHeight: 72, verticalAlign: 'top' },
                s: { fontSize: 44, fontFamily: FONT, fill: '#000', lineHeight: 40, verticalAlign: 'bottom' },
              },
            },
          },
          txt('Xmon qubit frequency [GHz]', 706, 525, 53),
          {
            type: 'text', x: 46, y: 800, rotation: Math.PI / 2, scaleX: 0.9, z: 100,
            style: {
              text: '{a|Q}{s|i}', align: 'center', verticalAlign: 'middle',
              rich: {
                a: { fontSize: 72, fontFamily: FONT, fill: '#000', lineHeight: 70, verticalAlign: 'top' },
                s: { fontSize: 44, fontFamily: FONT, fill: '#000', lineHeight: 40, verticalAlign: 'bottom' },
              },
            },
          },
          txt('<n>', 680, 1086, 62, {}, { lineHeight: 60 }),
        ],
      },
    };
    chart.setOption(option);
    return () => chart.dispose();
  }, []);
  return <div ref={ref} style={{ position: 'absolute', left: 0, top: 0, width: 1225, height: 1121, background: '#fff' }} />;
}
